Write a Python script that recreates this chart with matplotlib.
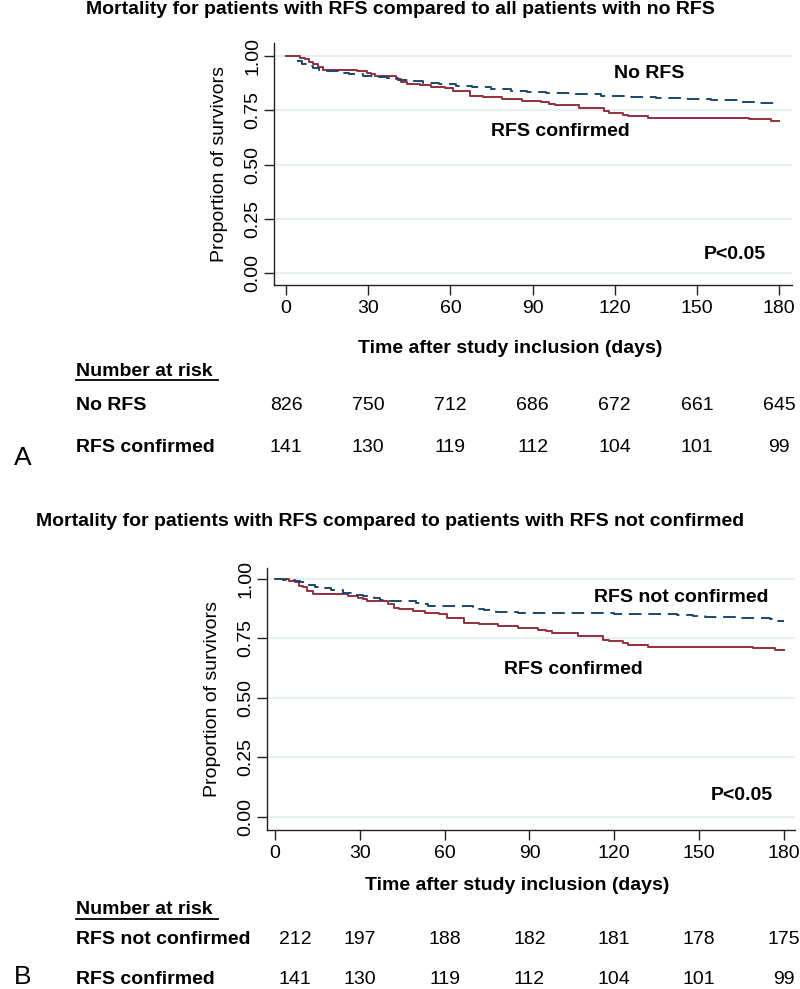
import matplotlib
matplotlib.use("Agg")
import matplotlib.pyplot as plt
from matplotlib.lines import Line2D

plt.rcParams['font.family'] = ['Liberation Sans', 'DejaVu Sans']

# ---------------- data ----------------
time_ticks = [0, 30, 60, 90, 120, 150, 180]
y_ticks = [0.00, 0.25, 0.50, 0.75, 1.00]
y_tick_labels = ["0.00", "0.25", "0.50", "0.75", "1.00"]

# RFS confirmed (same group in both panels)
rfs_conf_t = [0, 5, 7, 8.5, 10, 11.5, 13.5, 26, 29.5, 31, 32.5, 40, 42, 44, 49, 53, 58, 61,
              67, 72, 79, 86, 93, 96, 98, 107, 116, 118, 123, 125, 132, 169, 177, 180]
rfs_conf_s = [1.0, 0.993, 0.986, 0.972, 0.965, 0.951, 0.937, 0.930, 0.922, 0.915, 0.908,
              0.894, 0.880, 0.873, 0.865, 0.858, 0.851, 0.837, 0.816, 0.809, 0.801, 0.794,
              0.787, 0.780, 0.773, 0.759, 0.745, 0.738, 0.730, 0.723, 0.716, 0.709, 0.702, 0.702]

# No RFS (panel A) - the curve is visible from day 4 on
no_rfs_t = [4, 6, 8, 10, 12, 15, 19, 23, 28, 33, 37, 41, 45, 50, 56, 62, 68, 75, 82,
            88, 95, 105, 115, 125, 135, 145, 155, 165, 172, 180]
no_rfs_s = [0.978, 0.965, 0.955, 0.945, 0.937, 0.930, 0.922, 0.916, 0.910, 0.904,
            0.898, 0.890, 0.883, 0.876, 0.870, 0.864, 0.857, 0.848, 0.840, 0.834, 0.829,
            0.823, 0.817, 0.811, 0.806, 0.801, 0.796, 0.790, 0.785, 0.781]

# RFS not confirmed (panel B)
rfs_nc_t = [0, 3, 7, 9, 11, 12, 14, 17, 20, 24, 27, 31, 35, 37, 39, 50, 52, 54, 70, 72, 74,
            78, 86, 120, 142, 148, 152, 165, 175, 178, 180]
rfs_nc_s = [1.0, 0.995, 0.991, 0.986, 0.981, 0.976, 0.967, 0.962, 0.953, 0.943, 0.934, 0.929,
            0.920, 0.910, 0.906, 0.901, 0.896, 0.887, 0.882, 0.873, 0.868, 0.863, 0.858,
            0.854, 0.849, 0.844, 0.840, 0.835, 0.830, 0.825, 0.825]

risk_A_no_rfs = [826, 750, 712, 686, 672, 661, 645]
risk_A_conf = [141, 130, 119, 112, 104, 101, 99]
risk_B_nc = [212, 197, 188, 182, 181, 178, 175]
risk_B_conf = [141, 130, 119, 112, 104, 101, 99]

title_A = "Mortality for patients with RFS compared to all patients with no RFS"
title_B = "Mortality for patients with RFS compared to patients with RFS not confirmed"

# ---------------- style ----------------
W, H = 800, 989
RED = "#93303C"
NAVY = "#1A476F"
GRID = "#E3EDEF"
FS = 14

fig = plt.figure(figsize=(W / 100, H / 100), dpi=100)


def fx(px):
    return px / W


def fy(py):
    return 1 - py / H


def ftext(x, y, s, **kw):
    fig.text(fx(x), fy(y), s, ha=kw.pop('ha', 'center'), va=kw.pop('va', 'center'), **kw)


def make_axes(left, top, right, bottom, xlim, ylim):
    ax = fig.add_axes([fx(left), fy(bottom), (right - left) / W, (bottom - top) / H])
    ax.set_xlim(*xlim)
    ax.set_ylim(*ylim)
    for s in ['top', 'right']:
        ax.spines[s].set_visible(False)
    for s in ['left', 'bottom']:
        ax.spines[s].set_linewidth(1.0)
        ax.spines[s].set_color("#222222")
    ax.set_xticks(time_ticks)
    ax.set_xticklabels([str(t) for t in time_ticks], fontsize=FS)
    ax.set_yticks(y_ticks)
    ax.set_yticklabels(y_tick_labels, fontsize=FS, rotation=90, va='center')
    ax.tick_params(direction='out', length=7, width=1.0, color="#222222", pad=4)
    ax.tick_params(axis='y', pad=2)
    ax.yaxis.grid(True, color=GRID, linewidth=1.3)
    ax.set_axisbelow(True)
    ax.set_ylabel("Proportion of survivors", fontsize=FS, labelpad=12)
    return ax


# ---------------- Panel A ----------------
axA = make_axes(274, 43, 792, 285, (-4.4, 184.7), (-0.055, 1.06))
axA.step(rfs_conf_t, rfs_conf_s, where='post', color=RED, lw=1.4)
axA.step(no_rfs_t, no_rfs_s, where='post', color=NAVY, lw=1.4, dashes=(6.5, 3.5))
ftext(649, 74, "No RFS", fontsize=FS, fontweight='bold')
ftext(560, 131, "RFS confirmed", fontsize=FS, fontweight='bold')
ftext(735, 255, "P<0.05", fontsize=FS, fontweight='bold')

ftext(400, 10, title_A, fontsize=FS, fontweight='bold')
ftext(510, 348, "Time after study inclusion (days)", fontsize=FS, fontweight='bold')
ftext(76, 371, "Number at risk", fontsize=FS, fontweight='bold', ha='left')
fig.add_artist(Line2D([fx(76), fx(218)], [fy(380), fy(380)], color='black', lw=1.3))
ftext(76, 405, "No RFS", fontsize=FS, fontweight='bold', ha='left')
ftext(76, 447, "RFS confirmed", fontsize=FS, fontweight='bold', ha='left')
ftext(23, 458, "A", fontsize=19)
for i, t in enumerate(time_ticks):
    xA = axA.transData.transform((t, 0))[0]
    fig.text(xA / W, fy(405), str(risk_A_no_rfs[i]), ha='center', va='center', fontsize=FS)
    fig.text(xA / W, fy(447), str(risk_A_conf[i]), ha='center', va='center', fontsize=FS)

# ---------------- Panel B ----------------
axB = make_axes(267, 568, 795, 830, (-2.8, 183.9), (-0.055, 1.046))
axB.step(rfs_conf_t, rfs_conf_s, where='post', color=RED, lw=1.4)
axB.step(rfs_nc_t, rfs_nc_s, where='post', color=NAVY, lw=1.4, dashes=(6.5, 3.5))
ftext(681, 597, "RFS not confirmed", fontsize=FS, fontweight='bold')
ftext(573, 669, "RFS confirmed", fontsize=FS, fontweight='bold')
ftext(742, 795, "P<0.05", fontsize=FS, fontweight='bold')

ftext(390, 521, title_B, fontsize=FS, fontweight='bold')
ftext(517, 886, "Time after study inclusion (days)", fontsize=FS, fontweight='bold')
ftext(76, 910, "Number at risk", fontsize=FS, fontweight='bold', ha='left')
fig.add_artist(Line2D([fx(76), fx(218)], [fy(919), fy(919)], color='black', lw=1.3))
ftext(76, 940, "RFS not confirmed", fontsize=FS, fontweight='bold', ha='left')
ftext(76, 980, "RFS confirmed", fontsize=FS, fontweight='bold', ha='left')
ftext(23, 977, "B", fontsize=19)
for i, t in enumerate(time_ticks):
    xB = axB.transData.transform((t, 0))[0]
    if i == 0:
        xB += 20
    fig.text(xB / W, fy(940), str(risk_B_nc[i]), ha='center', va='center', fontsize=FS)
    fig.text(xB / W, fy(980), str(risk_B_conf[i]), ha='center', va='center', fontsize=FS)

fig.savefig("out.png", dpi=100, facecolor='white')
